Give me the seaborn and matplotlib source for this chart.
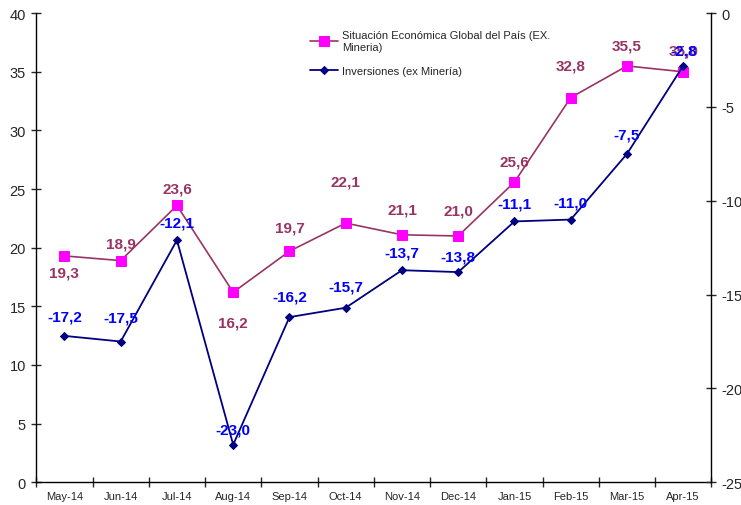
import pandas as pd
import matplotlib
matplotlib.use('Agg')
import matplotlib.pyplot as plt
import seaborn as sns

# Data
months = ['May-14', 'Jun-14', 'Jul-14', 'Aug-14', 'Sep-14', 'Oct-14',
          'Nov-14', 'Dec-14', 'Jan-15', 'Feb-15', 'Mar-15', 'Apr-15']
situacion = [19.3, 18.9, 23.6, 16.2, 19.7, 22.1, 21.1, 21.0, 25.6, 32.8, 35.5, 35.0]
inversiones = [-17.2, -17.5, -12.1, -23.0, -16.2, -15.7, -13.7, -13.8, -11.1, -11.0, -7.5, -2.8]

label_sit = 'Situación Económica Global del País (EX.\nMineria)'
label_inv = 'Inversiones (ex Minería)'

# label offsets in points (layout only)
sit_offsets = [-12, 12, 12, -22, 17, 30, 18, 18, 15, 23, 15, 15]
inv_offsets = [14, 17, 13, 11, 15, 15, 13, 11, 13, 12, 14, 11]

df = pd.DataFrame({'Mes': months, 'Situacion': situacion, 'Inversiones': inversiones})

sns.set_style('ticks')
plt.rcParams['font.family'] = ['Liberation Sans', 'DejaVu Sans']
plt.rcParams['axes.unicode_minus'] = False

fig, ax = plt.subplots(figsize=(7.41, 5.06), dpi=100)
fig.subplots_adjust(left=0.049, right=0.96, bottom=0.045, top=0.972)

pink_line = '#993366'
pink_mark = '#FF00FF'
navy = '#000080'

sns.lineplot(data=df, x='Mes', y='Situacion', ax=ax, color=pink_line, lw=1.2,
             marker='s', markersize=6.5, markerfacecolor=pink_mark,
             markeredgecolor=pink_mark, sort=False, label=label_sit)
ax2 = ax.twinx()
sns.lineplot(data=df, x='Mes', y='Inversiones', ax=ax2, color=navy, lw=1.3,
             marker='D', markersize=4.5, markerfacecolor=navy,
             markeredgecolor=navy, sort=False, label=label_inv)

ax.set_ylim(0, 40)
ax.set_yticks(range(0, 41, 5))
ax2.set_ylim(-25, 0)
ax2.set_yticks(range(-25, 1, 5))
ax.set_xlim(-0.5, len(months) - 0.5)

# major ticks on category boundaries, labels at centers
ax.set_xticks([i - 0.5 for i in range(len(months) + 1)])
ax.set_xticklabels([])
ax.set_xticks(range(len(months)), minor=True)
ax.set_xticklabels(months, minor=True, fontsize=8)
ax.tick_params(axis='x', which='minor', length=0, pad=6)
ax.tick_params(axis='x', which='major', direction='inout', length=7, width=1)
ax.tick_params(axis='y', direction='inout', length=7, width=1, labelsize=10.5, pad=4)
ax2.tick_params(axis='y', direction='inout', length=7, width=1, labelsize=10.5, pad=4)
ax.set_xlabel('')
ax.set_ylabel('')
ax2.set_ylabel('')

for a in (ax, ax2):
    a.spines['top'].set_visible(False)
    for s in ('left', 'right', 'bottom'):
        a.spines[s].set_color('black')
        a.spines[s].set_linewidth(1)
ax.spines['right'].set_visible(False)
ax2.spines['left'].set_visible(False)
ax2.spines['bottom'].set_visible(False)

for i, (v, off) in enumerate(zip(situacion, sit_offsets)):
    ax.annotate(f'{v:.1f}'.replace('.', ','), (i, v), xytext=(0, off),
                textcoords='offset points', ha='center', va='center',
                color=pink_line, fontsize=11, fontweight='bold')
for i, (v, off) in enumerate(zip(inversiones, inv_offsets)):
    ax2.annotate(f'{v:.1f}'.replace('.', ','), (i, v), xytext=(0, off),
                 textcoords='offset points', ha='center', va='center',
                 color='#0000FF', fontsize=11, fontweight='bold')

h1, l1 = ax.get_legend_handles_labels()
h2, l2 = ax2.get_legend_handles_labels()
ax2.get_legend().remove()
ax.legend(h1 + h2, l1 + l2, loc='upper left', bbox_to_anchor=(0.39, 0.985),
          frameon=False, fontsize=8, labelspacing=1.3, handlelength=2.6,
          handletextpad=0.3)

fig.savefig('out.png', dpi=100)
